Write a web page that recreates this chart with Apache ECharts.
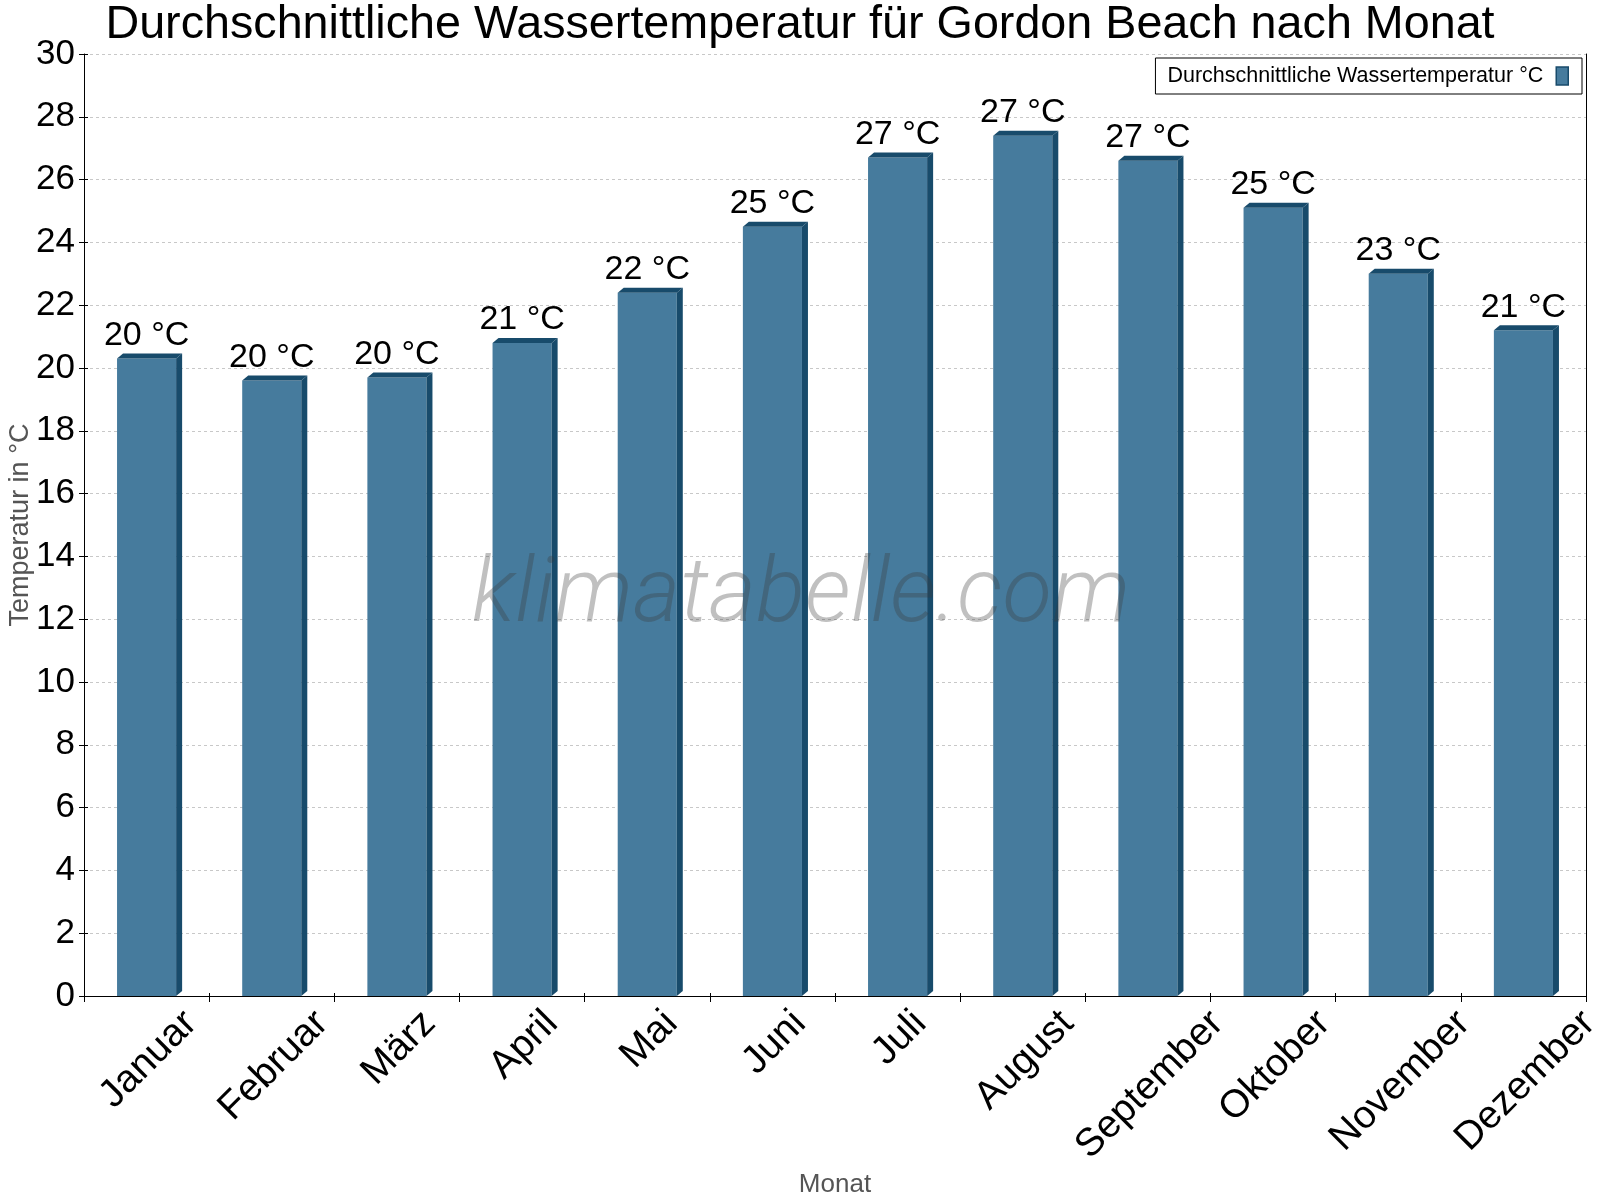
<!DOCTYPE html>
<html>
<head>
<meta charset="utf-8">
<script src="https://cdn.jsdelivr.net/npm/echarts@6/dist/echarts.min.js"></script>
<style>html,body{margin:0;padding:0;background:#fff;}#chart{width:1600px;height:1200px;}</style>
</head>
<body>
<div id="chart"></div>
<script>
const months = ['Januar','Februar','März','April','Mai','Juni','Juli','August','September','Oktober','November','Dezember'];
const waterTemp = [20.3, 19.6, 19.7, 20.8, 22.4, 24.5, 26.7, 27.4, 26.6, 25.1, 23.0, 21.2];
const yTicks = {min: 0, max: 30, interval: 2};
const seriesName = 'Durchschnittliche Wassertemperatur °C';
const titleText = 'Durchschnittliche Wassertemperatur für Gordon Beach nach Monat';

const FONT = '"Liberation Sans", Arial, sans-serif';
const FRONT = '#467b9d';
const DARK = '#184b6b';
const XFS = 39;

const mctx = document.createElement('canvas').getContext('2d');
mctx.font = XFS + 'px "Liberation Sans"';
function textW(t){ return mctx.measureText(t).width; }

const chart = echarts.init(document.getElementById('chart'), null, {renderer:'canvas'});

const barData = waterTemp.map((v,i)=>[i, v]);
const labelData = months.map((m,i)=>[i, 0]);

const option = {
  backgroundColor: '#fff',
  animation: false,
  title: {
    text: titleText, left: 'center', top: -3,
    textStyle: {fontFamily: FONT, fontSize: 46.7, fontWeight: 'normal', color: '#000'}
  },
  legend: {
    data: [seriesName], right: 18, top: 58,
    align: 'right', icon: 'rect', itemWidth: 12, itemHeight: 18,
    borderColor: '#000', borderWidth: 1, borderRadius: 0, backgroundColor: '#fff',
    padding: [7, 13, 7, 12],
    itemStyle: {color: FRONT, borderColor: DARK, borderWidth: 1.5},
    textStyle: {fontFamily: FONT, fontSize: 21.5, color: '#000', padding: [0, 8, 0, 0]}
  },
  grid: {left: 84, right: 14, top: 54, bottom: 204, containLabel: false, outerBoundsMode: 'none'},
  xAxis: [{
    type: 'category', data: months, boundaryGap: true,
    name: 'Monat', nameLocation: 'middle', nameGap: 176, nameMoveOverlap: false,
    nameTextStyle: {fontFamily: FONT, fontSize: 26, color: '#555'},
    axisLine: {lineStyle: {color: '#000', width: 1}},
    axisTick: {show: true, length: 6, interval: 0, lineStyle: {color: '#000'}},
    axisLabel: {show: false},
    splitLine: {show: false}
  }, {
    type: 'category', data: months, boundaryGap: true, position: 'bottom',
    axisLine: {show: false},
    axisTick: {show: true, inside: true, length: 3, interval: 0, lineStyle: {color: '#000'}},
    axisLabel: {show: false}, splitLine: {show: false}
  }],
  yAxis: [{
    type: 'value', min: yTicks.min, max: yTicks.max, interval: yTicks.interval,
    name: 'Temperatur in °C', nameLocation: 'middle', nameGap: 50, nameMoveOverlap: false,
    nameTextStyle: {fontFamily: FONT, fontSize: 27, color: '#555'},
    axisLine: {show: true, lineStyle: {color: '#000', width: 1}},
    axisTick: {show: true, length: 5, lineStyle: {color: '#000'}},
    axisLabel: {fontFamily: FONT, fontSize: 35, color: '#000', margin: 9},
    splitLine: {show: true, lineStyle: {color: '#c8c8c8', type: [3, 3], width: 1}}
  }, {
    type: 'value', position: 'right', min: yTicks.min, max: yTicks.max, interval: yTicks.interval,
    axisLine: {show: true, lineStyle: {color: '#000', width: 1}},
    axisTick: {show: false}, axisLabel: {show: false}, splitLine: {show: false}
  }, {
    type: 'value', position: 'left', min: yTicks.min, max: yTicks.max, interval: yTicks.interval,
    axisLine: {show: false},
    axisTick: {show: true, inside: true, length: 4, lineStyle: {color: '#000'}},
    axisLabel: {show: false}, splitLine: {show: false}
  }],
  series: [{
    name: seriesName, type: 'custom', data: barData,
    encode: {x: 0, y: 1},
    itemStyle: {color: FRONT},
    renderItem: function(params, api){
      const i = api.value(0), v = api.value(1);
      const top = api.coord([i, v]);
      const base = api.coord([i, 0]);
      const w = api.size([1, 0])[0] * 0.472;
      const x0 = top[0] - w/2, x1 = top[0] + w/2, yt = top[1], yb = base[1];
      const dx = 6, dy = 5;
      return {type: 'group', children: [
        {type: 'rect', shape: {x: x0, y: yt, width: w, height: yb - yt}, style: {fill: FRONT}},
        {type: 'polygon', shape: {points: [[x1, yt], [x1+dx, yt-dy], [x1+dx, yb-dy], [x1, yb]]}, style: {fill: DARK}},
        {type: 'polygon', shape: {points: [[x0, yt], [x0+dx, yt-dy], [x1+dx, yt-dy], [x1, yt]]}, style: {fill: DARK}},
        {type: 'text', x: top[0], y: yt - dy - 1, style: {text: Math.round(v) + ' °C', fontFamily: FONT, fontSize: 34, fill: '#000', align: 'center', verticalAlign: 'bottom'}}
      ]};
    }
  }, {
    name: 'xlabels', type: 'custom', data: labelData, encode: {x: 0, y: 1}, silent: true,
    renderItem: function(params, api){
      const i = api.value(0);
      const base = api.coord([i, 0]);
      const t = months[i];
      const L = textW(t), h = XFS * 1.05;
      const k = Math.SQRT1_2 / 2;
      const cx = base[0] + 2, cy = base[1] + 7 + k * (L + h);
      return {type: 'text', x: cx, y: cy, rotation: Math.PI/4,
        style: {text: t, fontFamily: FONT, fontSize: XFS, fill: '#000', align: 'center', verticalAlign: 'middle'}};
    }
  }],
  graphic: [{
    type: 'text', x: 801, y: 598, z: 100, silent: true,
    style: {text: 'klimatabelle.com', fontFamily: 'Roboto, "Liberation Sans", sans-serif', fontWeight: 300, fontStyle: 'italic', fontSize: 91, fill: 'rgba(60,60,60,0.32)', align: 'center', verticalAlign: 'middle'}
  }]
};
chart.setOption(option);
</script>
</body>
</html>
